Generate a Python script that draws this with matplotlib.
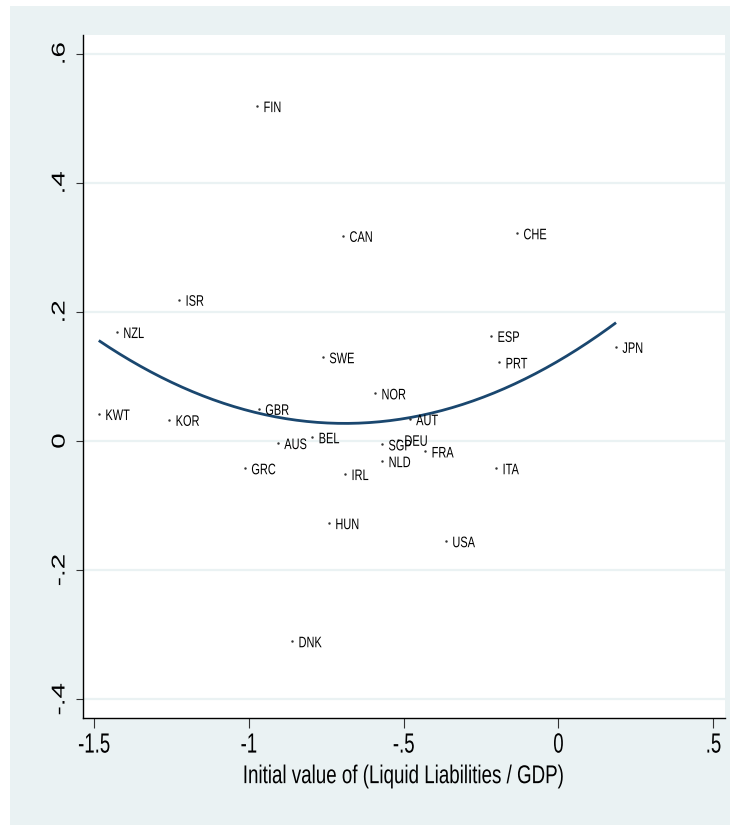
import numpy as np
import matplotlib
matplotlib.use("Agg")
import matplotlib.pyplot as plt
from matplotlib.patches import Rectangle
from matplotlib.patheffects import AbstractPathEffect
from matplotlib.transforms import Affine2D

# country codes with initial liquid liabilities / GDP (x) and outcome (y)
countries = ["FIN", "CAN", "CHE", "ISR", "NZL", "SWE", "ESP", "PRT", "JPN",
             "NOR", "KWT", "KOR", "GBR", "AUT", "AUS", "BEL", "SGP", "DEU",
             "FRA", "NLD", "ITA", "GRC", "IRL", "HUN", "USA", "DNK"]
init_llgdp = [-0.974, -0.696, -0.134, -1.226, -1.427, -0.761, -0.218, -0.192, 0.186,
              -0.593, -1.485, -1.258, -0.968, -0.480, -0.906, -0.796, -0.570, -0.519,
              -0.431, -0.570, -0.202, -1.013, -0.690, -0.742, -0.364, -0.861]
outcome = [0.519, 0.318, 0.322, 0.219, 0.169, 0.130, 0.163, 0.122, 0.146,
           0.074, 0.042, 0.033, 0.050, 0.034, -0.003, 0.006, -0.005, 0.002,
           -0.016, -0.031, -0.042, -0.042, -0.051, -0.127, -0.155, -0.310]

xticks = [-1.5, -1, -0.5, 0, 0.5]
xtick_labels = ["-1.5", "-1", "-.5", "0", ".5"]
yticks = [-0.4, -0.2, 0, 0.2, 0.4, 0.6]
ytick_labels = ["-.4", "-.2", "0", ".2", ".4", ".6"]

BG = "#EAF2F3"
NAVY = "#1A476F"
FONT = ["Liberation Sans", "DejaVu Sans"]


class Squeeze(AbstractPathEffect):
    """Narrow the text horizontally around one of its edges."""

    def __init__(self, sx=0.7, anchor="center"):
        super().__init__()
        self.sx = sx
        self.anchor = anchor

    def draw_path(self, renderer, gc, tpath, affine, rgbFace=None):
        ext = tpath.get_extents(affine)
        x0 = {"left": ext.x0, "center": (ext.x0 + ext.x1) / 2, "right": ext.x1}[self.anchor]
        sq = Affine2D().translate(-x0, 0).scale(self.sx, 1).translate(x0, 0)
        renderer.draw_path(gc, tpath, affine + sq, rgbFace)


plt.rcParams["font.family"] = FONT
fig = plt.figure(figsize=(7.31, 8.27), dpi=100)
fig.patch.set_facecolor("white")
fig.patches.append(Rectangle((10 / 731, 2 / 827), 720 / 731, 819 / 827,
                             transform=fig.transFigure, facecolor=BG,
                             edgecolor="none", zorder=-10))

ax = fig.add_axes([83 / 731, 1 - 718 / 827, 642 / 731, 683 / 827])
ax.set_facecolor("white")

x = np.array(init_llgdp)
y = np.array(outcome)

# quadratic fit over the range of x
coef = np.polyfit(x, y, 2)
xs = np.linspace(x.min(), x.max(), 200)
ax.plot(xs, np.polyval(coef, xs), color=NAVY, lw=2.0, zorder=3, solid_capstyle="butt")

ax.plot(x, y, ls="none", marker=".", ms=1.5, color="#333333", zorder=4)
for name, xi, yi in zip(countries, x, y):
    ax.annotate(name, (xi, yi), xytext=(4.5, -1.5), textcoords="offset points",
                ha="left", va="center", fontsize=11, color="black",
                path_effects=[Squeeze(0.72, "left")], zorder=5)

ax.set_xlim(-1.536, 0.538)
ax.set_ylim(-0.429, 0.629)
ax.set_xticks(xticks)
ax.set_xticklabels(xtick_labels)
ax.set_yticks(yticks)
ax.set_yticklabels(ytick_labels)
ax.grid(axis="y", color=BG, lw=1.6, zorder=1)
ax.set_axisbelow(True)

for side in ["top", "right"]:
    ax.spines[side].set_visible(False)
for side in ["left", "bottom"]:
    ax.spines[side].set_color("black")
    ax.spines[side].set_linewidth(1.0)

ax.tick_params(axis="x", length=7.5, width=0.8, color="#333333", labelsize=20, pad=3)
ax.tick_params(axis="y", length=5, width=0.8, color="#333333", labelsize=20, pad=4,
               labelrotation=90)
for lab in ax.get_xticklabels():
    lab.set_path_effects([Squeeze(0.67, "center")])
for lab in ax.get_yticklabels():
    lab.set_verticalalignment("center")
    lab.set_path_effects([Squeeze(0.67, "right")])

ax.set_xlabel("Initial value of (Liquid Liabilities / GDP)", fontsize=18.5, labelpad=4,
              path_effects=[Squeeze(0.73, "center")])

fig.savefig("out.png", dpi=100, facecolor="white")
